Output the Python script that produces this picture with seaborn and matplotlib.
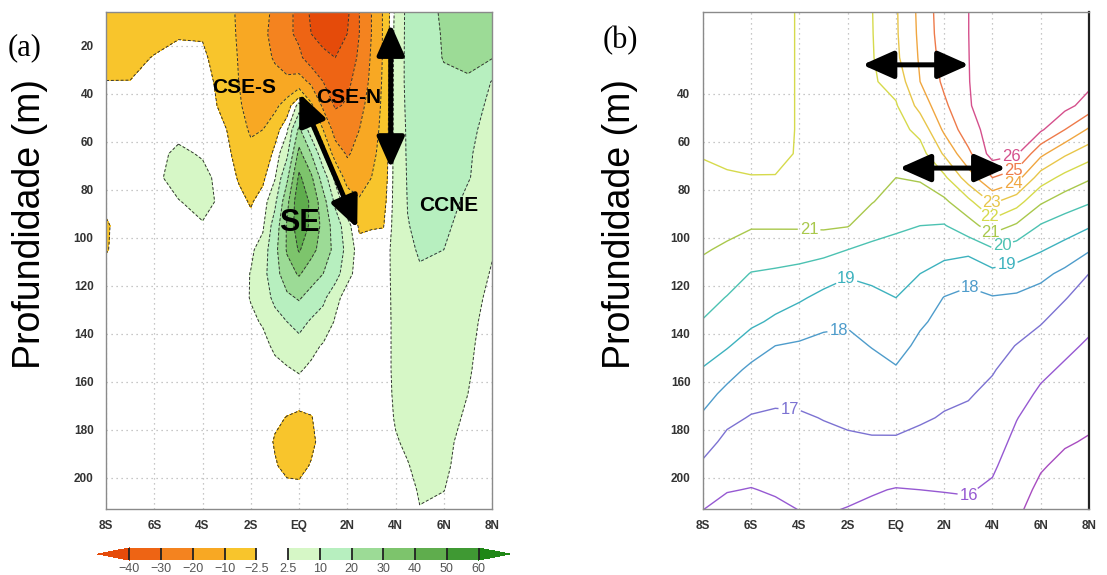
import numpy as np
import seaborn as sns
import matplotlib
matplotlib.use("Agg")
import matplotlib.pyplot as plt

# --------------------------- DATA ---------------------------
depth = [5, 15, 25, 35, 45, 55, 65, 75, 85, 95, 105,
         115, 125, 135, 145, 155, 165, 175, 185, 195, 205, 215]

# (a) zonal velocity (cm/s), one list per latitude, surface -> bottom
lat_u = [-8, -7, -6, -5, -4, -3, -2.5, -2, -1.5, -1, -0.5, 0, 0.5,
         1, 1.5, 2, 2.5, 3, 3.5, 4, 4.5, 5, 6, 7, 8]
u_by_lat = [
    [-7, -6, -4.5, -2.4, -1, 0, 0, 0, -1.5, -3, -2.8, -1, 0, 0, 0, 0, 0, 0, 0, 0, 0, 0],
    [-7, -5.5, -4, -2.4, -1, 0, 0, 0, 0, 0, 0, 0, 0, 0, 0, 0, 0, 0, 0, 0, 0, 0],
    [-6, -4.5, -2.2, -0.5, 0, 0.5, 1, 1, 0.5, 0, 0, 0, 0, 0, 0, 0, 0, 0, 0, 0, 0, 0],
    [-5, -3, -1, 0, 0.5, 1, 3.5, 5, 2.2, 0.3, 0, 0, 0, 0, 0, 0, 0, 0, 0, 0, 0, 0],
    [-5, -3, -1.5, 0, 0.5, 1, 2, 4, 4.5, 2, 0, 0, 0, 0, 0, 0, 0, 0, 0, 0, 0, 0],
    [-8, -7, -6, -5.5, -4.5, -2.5, -1, 0, 0.5, 0.5, 0, 0, 0, 0, 0, 0, 0, 0, 0, 0, 0, 0],
    [-11, -11, -10.5, -10, -9, -7, -5, -3, -1, 0, 0, 0.5, 0.5, 0, 0, 0, 0, 0, 0, 0, 0, 0],
    [-14, -15, -15, -14, -13, -11, -8, -5, -3, -1, 1.5, 2.7, 2.8, 1.5, 0.5, 0, 0, 0, 0, 0, 0, 0],
    [-17, -18, -17, -15, -13, -10, -7, -3.5, -0.5, 1.5, 5, 7, 6, 3, 1, 0, 0, 0, 0, 0, 0, 0],
    [-22, -23, -21, -17, -12, -5, -1, 2, 8, 14, 17, 16, 12, 7, 3.5, 1, 0, -1.5, -3, -2, 0, 0],
    [-28, -28, -25, -18, -6, 1.5, 8, 18, 27, 31, 31, 26, 18, 10, 5, 2, 0, -2.7, -5, -4, -1, 0],
    [-32, -32, -28, -16, 5, 22, 33, 42, 48, 47, 41, 31, 21, 13, 7, 3, 0, -3.5, -6, -4.5, -1, 0],
    [-42, -40, -35, -22, -8, 5, 20, 32, 38, 38, 33, 25, 16, 9, 4, 1.5, 0, -2.8, -4, -2, 0, 0],
    [-45, -43, -38, -30, -22, -10, 3, 15, 24, 27, 26, 20, 12, 6, 2, 0, 0, 0, 0, 0, 0, 0],
    [-46, -44, -40, -34, -31, -24, -15, 0.5, 8, 15, 17, 14, 4, 2, 0, 0, 0, 0, 0, 0, 0, 0],
    [-42, -40, -37, -32, -29, -25, -21, -15, -2.8, 5, 7, 4, 0.5, 0, 0, 0, 0, 0, 0, 0, 0, 0],
    [-30, -30, -28, -26, -23, -20, -17, -14, -9, -3.5, -0.5, 0.5, 0, 0, 0, 0, 0, 0, 0, 0, 0, 0],
    [-20, -20, -19, -18, -16, -14, -12, -10, -7, -3, 0, 0, 0, 0, 0, 0, 0, 0, 0, 0, 0, 0],
    [-9, -9, -9, -8.5, -8, -7.5, -7, -6, -4.5, -2.7, -0.5, 0, 0, 0, 0, 0, 0, 0, 0, 0, 0, 0],
    [4, 4.5, 5, 5, 5, 5, 5, 5, 5, 5, 5, 4.5, 4.2, 4, 4, 4, 3.6, 3, 2, 1, 0, 0],
    [12, 12, 12, 12, 11.5, 11, 10.8, 10.5, 10.2, 9.8, 9, 8, 7, 6.5, 6, 5.5, 5, 4.5, 3.5, 2.2, 1, 0],
    [14, 14, 14, 14, 13.5, 13, 12.5, 12, 11.5, 11, 10.5, 9.5, 8.5, 7.5, 7, 6.5, 6, 5.5, 5, 4, 3, 2.2],
    [22, 21, 20.5, 18, 16, 15, 14, 13, 12, 11, 10, 9, 8, 7, 6.5, 6, 5.5, 5, 4, 3.5, 2.6, 1.2],
    [24, 23, 22, 19, 12, 11, 10.5, 10.3, 9, 8, 7, 6, 5, 4, 3.5, 3, 2.5, 1.5, 0.5, 0, 0, 0],
    [23, 22, 20.5, 9.5, 9, 8.5, 8, 7.5, 6, 4.5, 3, 2, 1, 0.5, 0, 0, 0, 0, 0, 0, 0, 0],
]
u_levels = [-40, -30, -20, -10, -2.5, 2.5, 10, 20, 30, 40, 50, 60]
u_tick_labels = ["\u221240", "\u221230", "\u221220", "\u221210", "\u22122.5",
                 "2.5", "10", "20", "30", "40", "50", "60"]

# (b) temperature (C), one list per latitude, surface -> bottom
lat_t = [-8, -7, -6, -5, -4, -3, -2, -1, 0, 1, 2, 3, 4, 5, 6, 7, 8]
t_by_lat = [
    [22.35, 22.3, 22.25, 22.2, 22.15, 22.1, 22.05, 21.83, 21.58, 21.33, 21.08, 20.73, 20.35, 19.95, 19.45, 18.94, 18.39, 17.85, 17.35, 16.86, 16.38, 15.93],
    [22.35, 22.3, 22.25, 22.2, 22.15, 22.12, 22.1, 21.95, 21.6, 21.25, 20.86, 20.41, 19.96, 19.52, 19.09, 18.38, 17.74, 17.21, 16.78, 16.41, 16.04, 15.7],
    [22.35, 22.3, 22.25, 22.22, 22.2, 22.18, 22.15, 21.98, 21.48, 21.08, 20.53, 19.96, 19.58, 19.19, 18.5, 17.78, 17.35, 16.94, 16.61, 16.29, 15.97, 15.7],
    [22.2, 22.2, 22.2, 22.2, 22.2, 22.2, 22.2, 21.97, 21.52, 21.09, 20.47, 19.86, 19.38, 18.83, 18.0, 17.6, 17.2, 16.87, 16.61, 16.34, 16.08, 15.8],
    [21.95, 21.95, 21.95, 21.95, 21.95, 21.95, 21.93, 21.75, 21.45, 21.1, 20.42, 19.71, 19.12, 18.5, 17.88, 17.55, 17.22, 16.9, 16.67, 16.44, 16.2, 15.97],
    [21.9, 21.9, 21.9, 21.9, 21.9, 21.9, 21.85, 21.7, 21.45, 21.15, 20.3, 19.43, 18.76, 18.15, 17.81, 17.54, 17.28, 17.03, 16.78, 16.53, 16.28, 16.03],
    [21.9, 21.9, 21.9, 21.9, 21.9, 21.88, 21.8, 21.6, 21.35, 21.05, 20.0, 19.09, 18.6, 18.08, 17.81, 17.59, 17.36, 17.14, 16.87, 16.56, 16.24, 15.9],
    [21.97, 21.95, 21.92, 21.88, 21.8, 21.65, 21.45, 21.25, 21.05, 20.42, 19.78, 19.22, 18.78, 18.4, 18.03, 17.75, 17.48, 17.21, 16.92, 16.49, 16.07, 15.8],
    [22.9, 22.88, 22.8, 22.35, 21.91, 21.61, 21.3, 21.0, 20.57, 20.13, 19.74, 19.37, 19.0, 18.64, 18.29, 17.93, 17.6, 17.27, 16.9, 16.43, 15.96, 15.7],
    [24.25, 24.2, 24.12, 24.0, 23.33, 22.29, 21.6, 21.1, 20.56, 20.0, 19.5, 19.0, 18.56, 18.11, 17.82, 17.57, 17.33, 17.1, 16.77, 16.38, 16.0, 15.7],
    [25.6, 25.55, 25.4, 25.2, 24.81, 24.19, 23.13, 21.8, 20.82, 19.94, 19.32, 18.61, 17.97, 17.77, 17.57, 17.36, 17.16, 16.94, 16.64, 16.33, 16.03, 15.75],
    [25.99, 25.99, 25.98, 25.97, 25.93, 25.6, 24.78, 23.5, 21.73, 20.6, 19.3, 18.2, 17.85, 17.67, 17.47, 17.27, 17.07, 16.83, 16.57, 16.3, 16.06, 15.8],
    [26.6, 26.58, 26.55, 26.5, 26.45, 26.4, 26.4, 25.0, 23.17, 21.5, 19.87, 18.73, 17.94, 17.65, 17.35, 17.06, 16.81, 16.58, 16.35, 16.12, 15.87, 15.6],
    [26.7, 26.68, 26.65, 26.6, 26.5, 26.35, 26.12, 24.4, 22.4, 20.86, 19.5, 18.58, 17.86, 17.43, 16.97, 16.66, 16.34, 16.03, 15.8, 15.57, 15.34, 15.11],
    [26.75, 26.72, 26.65, 26.55, 26.4, 26.15, 24.25, 22.5, 21.13, 19.92, 19.08, 18.25, 17.61, 17.06, 16.62, 16.19, 15.86, 15.6, 15.34, 15.08, 14.82, 14.6],
    [26.8, 26.75, 26.65, 26.5, 26.3, 25.0, 23.15, 21.7, 20.5, 19.5, 18.65, 17.78, 17.05, 16.62, 16.2, 15.87, 15.61, 15.34, 15.08, 14.8, 14.55, 14.3],
    [26.8, 26.7, 26.5, 26.25, 25.6, 23.86, 22.43, 21.12, 20.1, 19.1, 18.1, 17.0, 16.6, 16.2, 15.88, 15.69, 15.4, 15.17, 14.93, 14.7, 14.45, 14.2],
]
t_levels = [15, 16, 17, 18, 19, 20, 21, 22, 23, 24, 25, 26]

lat_ticks = [-8, -6, -4, -2, 0, 2, 4, 6, 8]
lat_labels = ["8S", "6S", "4S", "2S", "EQ", "2N", "4N", "6N", "8N"]
depth_ticks_a = [20, 40, 60, 80, 100, 120, 140, 160, 180, 200]
depth_ticks_b = [40, 60, 80, 100, 120, 140, 160, 180, 200]

# --------------------------- STYLE ---------------------------
sns.set_theme(style="white")
plt.rcParams["font.family"] = ["Liberation Sans", "DejaVu Sans"]
plt.rcParams["text.color"] = "black"

u_colors = ["#E54B0A", "#EE6414", "#F4831F", "#F8A823", "#F8C52C", "none",
            "#D6F7C6", "#B7EFBF", "#9CDB96", "#7DC46C", "#5FAD4D", "#3F9933", "#1F8716"]
t_colors = ["#A84CC0", "#9659D2", "#7C72D2", "#4E9CCB", "#3DB2BE", "#4CC2B2",
            "#A9C84C", "#D6DA4C", "#E8C64A", "#F0A640", "#EE7A4A", "#D5508C"]

U = np.array(u_by_lat).T
T = np.array(t_by_lat).T

fig = plt.figure(figsize=(11.07, 5.75), dpi=100)
ax_a = fig.add_axes([0.0958, 0.1148, 0.3487, 0.8643])
ax_b = fig.add_axes([0.6350, 0.1148, 0.3487, 0.8643])
cax = fig.add_axes([0.0885, 0.026, 0.3722, 0.021])


def style_axis(ax, yticks):
    ax.set_xlim(-8, 8)
    ax.set_ylim(213, 6)
    ax.set_axisbelow(True)
    ax.grid(True, linestyle=(0, (1, 3)), color="#b5b5b5", linewidth=0.9)
    ax.set_xticks(lat_ticks)
    ax.set_xticklabels(lat_labels)
    ax.set_yticks(yticks)
    ax.tick_params(axis="x", length=3, color="#999999", pad=5,
                   labelsize=8.5, labelcolor="#333333")
    ax.tick_params(axis="y", length=0, pad=9, labelsize=8.5, labelcolor="#333333")
    for lab in ax.get_xticklabels() + ax.get_yticklabels():
        lab.set_fontweight("bold")
    for sp in ax.spines.values():
        sp.set_color("#8a8a8a")
        sp.set_linewidth(1.0)


def double_arrow(ax, start, end):
    ax.annotate("", xy=end, xytext=start,
                arrowprops=dict(arrowstyle="<|-|>,head_length=0.9,head_width=0.4",
                                mutation_scale=21, lw=3.6, color="black",
                                shrinkA=0, shrinkB=0))


# --------------------------- PANEL (a) ---------------------------
style_axis(ax_a, depth_ticks_a)
cf = ax_a.contourf(lat_u, depth, U, levels=u_levels, colors=u_colors, extend="both")
ax_a.contour(lat_u, depth, U, levels=u_levels, colors="#333333",
             linewidths=0.7, linestyles=[(0, (3, 2))])

ax_a.text(-2.26, 37.5, "CSE-S", ha="center", va="center", fontsize=15,
          fontweight="bold", color="black")
ax_a.text(2.06, 41.7, "CSE-N", ha="center", va="center", fontsize=15,
          fontweight="bold", color="black")
ax_a.text(0.0, 94, "SE", ha="center", va="center", fontsize=22,
          fontweight="bold", color="black")
ax_a.text(6.2, 86.7, "CCNE", ha="center", va="center", fontsize=15,
          fontweight="bold", color="black")
double_arrow(ax_a, (3.8, 11), (3.8, 71))
double_arrow(ax_a, (0.02, 40), (2.41, 96))

cb = fig.colorbar(cf, cax=cax, orientation="horizontal", spacing="uniform",
                  extendfrac=0.09, drawedges=True)
cb.outline.set_visible(False)
cb.dividers.set_color("#222222")
cb.dividers.set_linewidth(1.3)
cb.set_ticks(u_levels)
cb.set_ticklabels(u_tick_labels)
cax.tick_params(length=0, pad=2, labelsize=9, labelcolor="#555555")

# --------------------------- PANEL (b) ---------------------------
style_axis(ax_b, depth_ticks_b)
ax_b.spines["right"].set_color("#222222")
ax_b.spines["right"].set_linewidth(1.6)
cs = ax_b.contour(lat_t, depth, T, levels=t_levels, colors=t_colors, linewidths=1.0)
label_spots = [(4.8, 67), (4.9, 73), (4.9, 79), (3.9, 86), (3.9, 91), (3.9, 98),
               (4.4, 103), (4.6, 112), (-3.6, 97), (-2.1, 116), (-2.4, 137),
               (3.1, 120), (-4.4, 171), (3.0, 207)]
labels = ax_b.clabel(cs, fmt="%d", fontsize=12, inline=True, inline_spacing=2,
                     manual=label_spots)
for lab in labels:
    lab.set_rotation(0)

double_arrow(ax_b, (-1.39, 28), (3.03, 28))
double_arrow(ax_b, (0.14, 71), (4.56, 71))

# --------------------------- FIGURE TEXT ---------------------------
fig.text(0.027, 0.61, "Profundidade (m)", rotation=90, ha="center", va="center",
         fontsize=27, color="black")
fig.text(0.560, 0.61, "Profundidade (m)", rotation=90, ha="center", va="center",
         fontsize=27, color="black")
fig.text(0.0226, 0.9165, "(a)", ha="center", va="center", fontsize=22, color="black",
         family=["Liberation Serif", "DejaVu Serif"])
fig.text(0.560, 0.929, "(b)", ha="center", va="center", fontsize=22, color="black",
         family=["Liberation Serif", "DejaVu Serif"])

fig.savefig("out.png", dpi=100, facecolor="white")
